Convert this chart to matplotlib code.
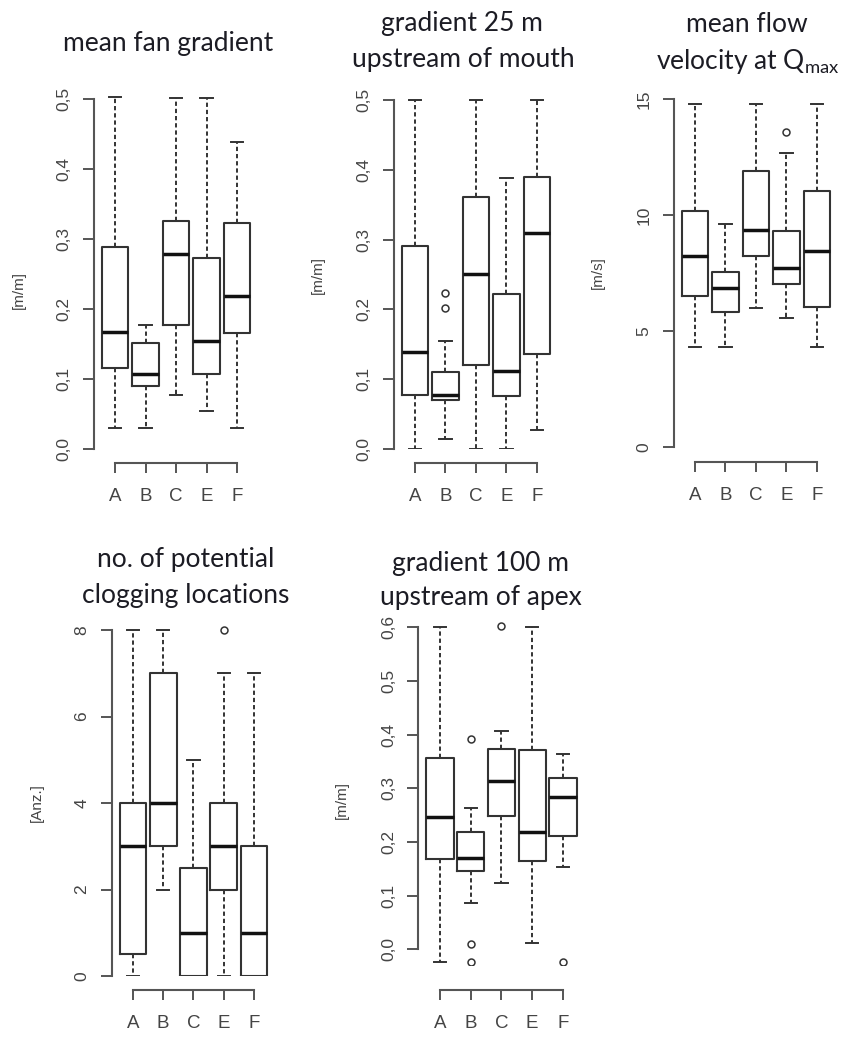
import matplotlib
matplotlib.use("Agg")
import matplotlib.pyplot as plt

# --- data ---
groups = ['A', 'B', 'C', 'E', 'F']

# mean fan gradient [m/m]
fan_lo = [0.031, 0.031, 0.077, 0.055, 0.031]
fan_q1 = [0.116, 0.091, 0.178, 0.107, 0.166]
fan_med = [0.168, 0.107, 0.279, 0.155, 0.219]
fan_q3 = [0.289, 0.152, 0.326, 0.273, 0.323]
fan_hi = [0.503, 0.177, 0.502, 0.502, 0.438]
fan_out = [[], [], [], [], []]

# gradient 25 m upstream of mouth [m/m]
mouth_lo = [0.0, 0.015, 0.0, 0.0, 0.027]
mouth_q1 = [0.077, 0.070, 0.121, 0.076, 0.136]
mouth_med = [0.139, 0.077, 0.251, 0.112, 0.309]
mouth_q3 = [0.291, 0.110, 0.361, 0.222, 0.389]
mouth_hi = [0.5, 0.155, 0.5, 0.388, 0.5]
mouth_out = [[], [0.202, 0.223], [], [], []]

# mean flow velocity at Qmax [m/s]
vel_lo = [4.32, 4.32, 5.97, 5.54, 4.32]
vel_q1 = [6.52, 5.80, 8.25, 7.01, 6.05]
vel_med = [8.25, 6.84, 9.36, 7.70, 8.46]
vel_q3 = [10.19, 7.56, 11.9, 9.33, 11.05]
vel_hi = [14.78, 9.62, 14.78, 12.67, 14.78]
vel_out = [[], [], [], [13.6], []]

# no. of potential clogging locations [Anz.]
clog_lo = [0, 2, 0, 0, 0]
clog_q1 = [0.5, 3, 0, 2, 0]
clog_med = [3, 4, 1, 3, 1]
clog_q3 = [4, 7, 2.5, 4, 3]
clog_hi = [8, 8, 5, 7, 7]
clog_out = [[], [], [], [8], []]

# gradient 100 m upstream of apex [m/m]
apex_lo = [-0.023, 0.086, 0.124, 0.011, 0.154]
apex_q1 = [0.168, 0.146, 0.248, 0.165, 0.212]
apex_med = [0.247, 0.171, 0.314, 0.218, 0.283]
apex_q3 = [0.356, 0.218, 0.373, 0.371, 0.319]
apex_hi = [0.6, 0.264, 0.407, 0.6, 0.363]
apex_out = [[], [0.392, 0.010, -0.024], [0.602], [], [-0.024]]

fan_ticks = [0.0, 0.1, 0.2, 0.3, 0.4, 0.5]
mouth_ticks = [0.0, 0.1, 0.2, 0.3, 0.4, 0.5]
vel_ticks = [0, 5, 10, 15]
clog_ticks = [0, 2, 4, 6, 8]
apex_ticks = [0.0, 0.1, 0.2, 0.3, 0.4, 0.5, 0.6]

# --- figure layout (pixels) ---
W, H, DPI = 853, 1037, 100
fig = plt.figure(figsize=(W / DPI, H / DPI), dpi=DPI)
fig.patch.set_facecolor('white')

AXIS_COL = '#555555'
LINE_COL = '#333333'
TXT_COL = '#444444'
TITLE_FONT = ['Lato', 'DejaVu Sans']
plt.rcParams['mathtext.fontset'] = 'custom'
plt.rcParams['mathtext.rm'] = 'Lato'


def px2pt(p):
    return p * 72.0 / DPI


def make_box_axes(xA, xF, v0, p0, v1, p1, ylim, xaxis_py):
    # map pixel positions of the reference onto an axes
    per_x = (xF - xA) / 4.0
    left = xA - 0.7 * per_x
    right = xF + 0.7 * per_x
    per_y = (p0 - p1) / (v1 - v0)
    top = p0 - (ylim[1] - v0) * per_y
    bot = p0 - (ylim[0] - v0) * per_y
    ax = fig.add_axes([left / W, 1 - bot / H, (right - left) / W, (bot - top) / H])
    ax.set_xlim(0.3, 5.7)
    ax.set_ylim(ylim)
    ax.patch.set_alpha(0)
    ax.spines['bottom'].set_position(('outward', px2pt(xaxis_py - bot)))
    return ax


def draw_panel(ax, lo, q1, med, q3, hi, out, ticks, fmt):
    stats = []
    for i, g in enumerate(groups):
        stats.append(dict(label=g, whislo=lo[i], q1=q1[i], med=med[i],
                          q3=q3[i], whishi=hi[i], fliers=out[i]))
    ax.bxp(stats, positions=range(1, 6), widths=0.88, capwidths=0.4,
           boxprops=dict(color=LINE_COL, linewidth=1.5),
           medianprops=dict(color='#111111', linewidth=2.5),
           whiskerprops=dict(color=LINE_COL, linewidth=1.4, linestyle=(0, (2.2, 1.5))),
           capprops=dict(color=LINE_COL, linewidth=1.4),
           flierprops=dict(marker='o', markersize=5, markerfacecolor='none',
                           markeredgecolor=LINE_COL, markeredgewidth=1.1))
    for s in ['top', 'right']:
        ax.spines[s].set_visible(False)
    ax.spines['left'].set_bounds(ticks[0], ticks[-1])
    ax.spines['bottom'].set_bounds(1, 5)
    for s in ['left', 'bottom']:
        ax.spines[s].set_color(AXIS_COL)
        ax.spines[s].set_linewidth(1.5)
    ax.set_yticks(ticks)
    ax.set_yticklabels([fmt(t) for t in ticks], rotation=90, va='center',
                       fontsize=12.5, color=TXT_COL, family='Liberation Sans')
    ax.set_xticks(range(1, 6))
    ax.set_xticklabels(groups, fontsize=13.5, color=TXT_COL, family='Liberation Sans')
    ax.tick_params(axis='y', length=8, width=1.4, color=AXIS_COL, pad=8)
    ax.tick_params(axis='x', length=7, width=1.4, color=AXIS_COL, pad=11)


def dec1(t):
    return f"{t:.1f}".replace('.', ',')


def intfmt(t):
    return f"{int(t)}"


# panel 1: mean fan gradient
ax1 = make_box_axes(115, 237, 0.0, 449.3, 0.5, 99, (0.0, 0.52), 463)
draw_panel(ax1, fan_lo, fan_q1, fan_med, fan_q3, fan_hi, fan_out, fan_ticks, dec1)

# panel 2: gradient 25 m upstream of mouth
ax2 = make_box_axes(415, 537, 0.0, 449, 0.5, 100, (0.0, 0.52), 463)
draw_panel(ax2, mouth_lo, mouth_q1, mouth_med, mouth_q3, mouth_hi, mouth_out, mouth_ticks, dec1)

# panel 3: flow velocity
ax3 = make_box_axes(695, 817, 0.0, 446.7, 15.0, 99.3, (0.0, 15.3), 462)
draw_panel(ax3, vel_lo, vel_q1, vel_med, vel_q3, vel_hi, vel_out, vel_ticks, intfmt)

# panel 4: clogging locations
ax4 = make_box_axes(133, 254, 0.0, 976, 8.0, 630, (0.0, 8.2), 990)
draw_panel(ax4, clog_lo, clog_q1, clog_med, clog_q3, clog_hi, clog_out, clog_ticks, intfmt)

# panel 5: gradient 100 m upstream of apex
ax5 = make_box_axes(440, 563, 0.0, 949.3, 0.6, 627.3, (-0.03, 0.615), 990)
draw_panel(ax5, apex_lo, apex_q1, apex_med, apex_q3, apex_hi, apex_out, apex_ticks, dec1)

# y labels
for (x, y, lab) in [(19, 290, '[m/m]'), (318, 275, '[m/m]'), (598, 273, '[m/s]'),
                    (37, 803, '[Anz.]'), (342, 800, '[m/m]')]:
    fig.text(x / W, 1 - y / H, lab, rotation=90, ha='center', va='center',
             fontsize=11, color=TXT_COL, family='Liberation Sans')

# titles
TITLE_KW = dict(ha='center', va='center', fontsize=19, color='#1c1c24', family=TITLE_FONT)
fig.text(168 / W, 1 - 43 / H, 'mean fan gradient', **TITLE_KW)
fig.text(462 / W, 1 - 24 / H, 'gradient 25 m', **TITLE_KW)
fig.text(463 / W, 1 - 60 / H, 'upstream of mouth', **TITLE_KW)
fig.text(747 / W, 1 - 24 / H, 'mean flow', **TITLE_KW)
fig.text(748 / W, 1 - 62 / H, r'velocity at Q$_{\mathregular{max}}$', **TITLE_KW)
fig.text(186 / W, 1 - 560 / H, 'no. of potential', **TITLE_KW)
fig.text(186 / W, 1 - 596 / H, 'clogging locations', **TITLE_KW)
fig.text(481 / W, 1 - 563 / H, 'gradient 100 m', **TITLE_KW)
fig.text(481 / W, 1 - 598 / H, 'upstream of apex', **TITLE_KW)

fig.savefig('out.png', dpi=DPI, facecolor='white')
